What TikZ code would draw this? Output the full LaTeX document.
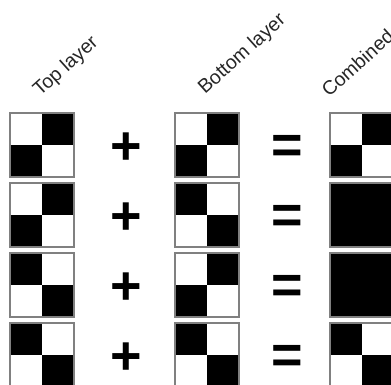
\documentclass[tikz,border=0pt]{standalone}
\usepackage{fontspec}
\setmainfont{Liberation Sans}
\tikzset{
  x=1pt, y=-1pt,
  frame/.style={draw=black!50, line width=1.4pt},
  lbl/.style={font=\fontsize{19.5}{22}\selectfont, rotate=42, anchor=base west, inner sep=0pt, text=black!85},
  op/.style={font=\bfseries\fontsize{54}{54}\selectfont, anchor=base, inner sep=0pt},
}
\newcommand\tileat[6]{%
  \begin{scope}[shift={(#1,#2)}]
    \fill[white] (0,0) rectangle (64,64);
    \ifnum#3=1 \fill[black] (0,0) rectangle (32,32);\fi
    \ifnum#4=1 \fill[black] (32,0) rectangle (64,32);\fi
    \ifnum#5=1 \fill[black] (0,32) rectangle (32,64);\fi
    \ifnum#6=1 \fill[black] (32,32) rectangle (64,64);\fi
    \draw[frame] (0,0) rectangle (64,64);
  \end{scope}}
\begin{document}
\begin{tikzpicture}
\useasboundingbox (0,0) rectangle (391,384);
\clip (0,0) rectangle (391,384);
\node[lbl] (t1) at (40,97) {Top layer};
\node[lbl] (t2) at (205,95) {Bottom layer};
\node[lbl] (t3) at (329,98) {Combined};
% row 1
\tileat{10}{113}{0}{1}{1}{0}
\tileat{175}{113}{0}{1}{1}{0}
\tileat{330}{113}{0}{1}{1}{0}
% row 2
\tileat{10}{183}{0}{1}{1}{0}
\tileat{175}{183}{1}{0}{0}{1}
\tileat{330}{183}{1}{1}{1}{1}
% row 3
\tileat{10}{253}{1}{0}{0}{1}
\tileat{175}{253}{0}{1}{1}{0}
\tileat{330}{253}{1}{1}{1}{1}
% row 4
\tileat{10}{323}{1}{0}{0}{1}
\tileat{175}{323}{1}{0}{0}{1}
\tileat{330}{323}{1}{0}{0}{1}
\foreach \r in {0,1,2,3}{
  \node[op] (p\r) at (126,164+70*\r) {+};
  \node[op] (e\r) at (287,163+70*\r) {=};
}
\end{tikzpicture}
\end{document}
